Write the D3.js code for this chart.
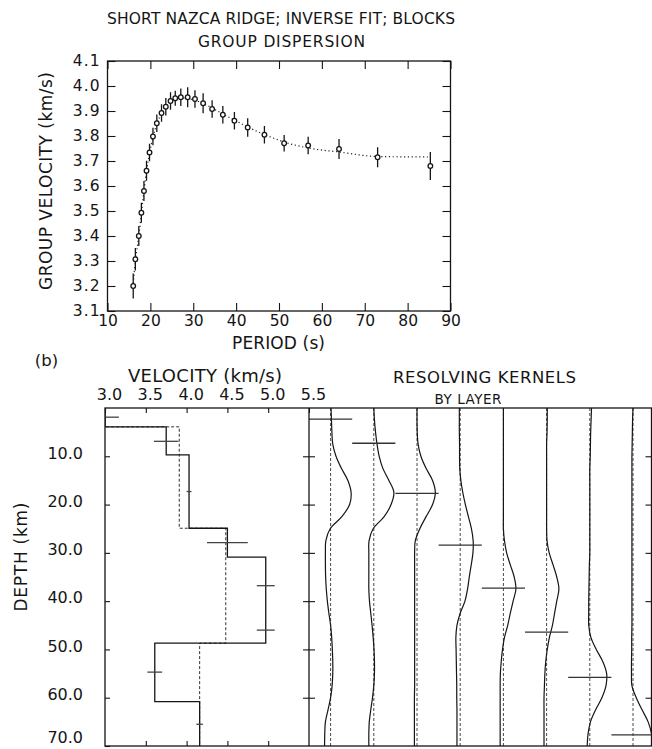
<!DOCTYPE html>
<html>
<head>
<meta charset="utf-8">
<script src="https://cdn.jsdelivr.net/npm/d3@7"></script>
<style>
  body { margin: 0; background: #fff; }
  svg text { font-family: "DejaVu Sans", sans-serif; fill: #151515; }
</style>
</head>
<body>
<div id="chart"></div>
<script>
//========================================================================================================================
// (a) group dispersion: observed periods (s), group velocity (km/s), error, and the inverse fit
const periods  = [16.0, 16.5, 17.3, 17.9, 18.5, 19.1, 19.8, 20.6, 21.5, 22.6, 23.6, 24.7, 25.8, 27.1,
                  28.7, 30.4, 32.3, 34.4, 36.9, 39.6, 42.7, 46.6, 51.2, 56.8, 64.0, 73.0, 85.3];
const groupVel = [3.200, 3.307, 3.400, 3.493, 3.580, 3.661, 3.734, 3.798, 3.851, 3.892, 3.917, 3.940, 3.951, 3.955,
                  3.955, 3.948, 3.931, 3.908, 3.885, 3.861, 3.834, 3.805, 3.771, 3.762, 3.748, 3.715, 3.680];
const groupErr = [0.050, 0.045, 0.040, 0.040, 0.040, 0.040, 0.035, 0.035, 0.035, 0.035, 0.035, 0.035, 0.030, 0.035,
                  0.040, 0.035, 0.040, 0.035, 0.035, 0.035, 0.037, 0.035, 0.033, 0.035, 0.040, 0.040, 0.056];
const fitVel   = [3.210, 3.300, 3.400, 3.490, 3.580, 3.660, 3.730, 3.795, 3.848, 3.890, 3.918, 3.937, 3.948, 3.952,
                  3.950, 3.943, 3.930, 3.912, 3.888, 3.864, 3.836, 3.806, 3.776, 3.752, 3.736, 3.718, 3.716];
const periodTicks = [10, 20, 30, 40, 50, 60, 70, 80, 90];
const groupTicks  = [3.1, 3.2, 3.3, 3.4, 3.5, 3.6, 3.7, 3.8, 3.9, 4.0, 4.1];

//========================================================================================================================
// (b) block model: layer tops (km), inverted and starting shear velocity (km/s), velocity error bars
const layerTop   = [0, 3.9, 9.7, 24.9, 30.9, 42.0, 48.7, 60.8];
const invVel     = [3.00, 3.75, 4.03, 4.50, 4.97, 4.97, 3.61, 4.16];
const startVel   = [3.00, 3.91, 3.91, 4.48, 4.48, 4.48, 4.16, 4.16];
const velErr     = [0.17, 0.15, 0.03, 0.25, 0.11, 0.11, 0.09, 0.04];
const crossDepth = [1.9, 6.9, 17.3, 27.9, 36.8, 46.0, 54.7, 65.5];
const modelVelTicks = [3.0, 3.5, 4.0, 4.5, 5.0, 5.5];
const depthTicks    = [10, 20, 30, 40, 50, 60, 70];

// resolving kernels, one column per layer, sampled every 2.5 km (amplitude: 1 = half column width)
const kernelDepth  = [0, 2.5, 5, 7.5, 10, 12.5, 15, 17.5, 20, 22.5, 25, 27.5, 30, 32.5, 35, 37.5, 40,
                      42.5, 45, 47.5, 50, 52.5, 55, 57.5, 60, 62.5, 65, 67.5, 70];
const kernelTarget = [2.3, 7.3, 17.7, 28.4, 37.3, 46.4, 55.8, 67.7];
const kernel1 = [0.02, 0.04, 0.06, 0.10, 0.25, 0.50, 0.80, 0.95, 0.88, 0.52, -0.02, -0.22, -0.24, -0.24, -0.23,
                 -0.20, -0.15, -0.08, 0.00, 0.05, 0.08, 0.10, 0.10, 0.07, 0.00, -0.12, -0.24, -0.27, -0.28];
const kernel2 = [0.00, 0.03, 0.08, 0.15, 0.25, 0.42, 0.70, 0.93, 0.80, 0.48, -0.03, -0.22, -0.23, -0.23, -0.23,
                 -0.23, -0.20, -0.14, -0.08, -0.03, 0.01, 0.03, 0.03, 0.00, -0.06, -0.14, -0.21, -0.23, -0.23];
const kernel3 = [0.00, 0.00, 0.01, 0.05, 0.18, 0.42, 0.72, 0.85, 0.72, 0.42, 0.13, -0.08, -0.11, -0.11, -0.11,
                 -0.11, -0.11, -0.11, -0.11, -0.11, -0.11, -0.11, -0.11, -0.11, -0.12, -0.12, -0.12, -0.12, -0.12];
const kernel4 = [-0.04, -0.04, -0.04, -0.03, -0.03, -0.02, 0.03, 0.12, 0.24, 0.38, 0.52, 0.60, 0.59, 0.51, 0.42,
                 0.34, 0.22, 0.00, -0.15, -0.20, -0.19, -0.18, -0.17, -0.16, -0.16, -0.15, -0.15, -0.15, -0.15];
const kernel5 = [0.00, 0.00, 0.00, 0.00, 0.00, 0.00, 0.00, 0.00, 0.00, 0.00, 0.00, 0.05, 0.15, 0.32, 0.50,
                 0.58, 0.45, 0.32, 0.20, 0.05, -0.04, -0.10, -0.14, -0.15, -0.15, -0.15, -0.15, -0.15, -0.15];
const kernel6 = [0.03, 0.03, 0.02, 0.00, 0.00, 0.00, 0.00, 0.00, 0.00, 0.00, 0.00, 0.02, 0.12, 0.30, 0.47,
                 0.57, 0.47, 0.37, 0.27, 0.13, 0.03, -0.04, -0.08, -0.10, -0.12, -0.12, -0.12, -0.12, -0.12];
const kernel7 = [0.08, 0.06, 0.04, 0.03, 0.02, 0.00, 0.00, 0.00, 0.00, 0.00, 0.00, 0.00, 0.00, -0.02, -0.03,
                 -0.04, -0.05, -0.05, -0.05, 0.05, 0.30, 0.60, 0.78, 0.75, 0.56, 0.27, 0.03, -0.08, -0.12];
const kernel8 = [0.00, -0.02, -0.03, -0.04, -0.05, -0.05, -0.05, -0.05, -0.05, -0.05, -0.05, -0.05, -0.05, -0.05, -0.05,
                 -0.05, -0.05, -0.05, -0.05, -0.06, -0.06, -0.07, -0.07, -0.05, 0.15, 0.42, 0.70, 0.86, 0.92];
const kernels = [kernel1, kernel2, kernel3, kernel4, kernel5, kernel6, kernel7, kernel8];

//========================================================================================================================
const W = 652, H = 749;
const ink = "#151515";

const svg = d3.select("#chart").append("svg").attr("width", W).attr("height", H);

// strip the domain line and restyle ticks / labels of a d3 axis
const styleAxis = (g, size) => {
  g.attr("font-family", "DejaVu Sans, sans-serif").attr("font-size", size);
  g.select(".domain").remove();
  g.selectAll(".tick line").attr("stroke", ink).attr("stroke-width", 1.1);
  g.selectAll(".tick text").attr("fill", ink);
};

const label = (txt, x, y, size, len, rotate) => {
  const t = svg.append("text")
    .attr("text-anchor", "middle")
    .attr("font-size", size)
    .text(txt);
  if (len) t.attr("textLength", len).attr("lengthAdjust", "spacing");
  if (rotate) t.attr("transform", `translate(${x},${y}) rotate(-90)`);
  else t.attr("x", x).attr("y", y);
  return t;
};

//================================ (a) GROUP DISPERSION ===================================================================
const pa = { left: 107.5, right: 450.5, top: 61, bottom: 311 };
const xP = d3.scaleLinear().domain([10, 90]).range([pa.left, pa.right]);
const yU = d3.scaleLinear().domain([3.1, 4.1]).range([pa.bottom, pa.top]);

const gA = svg.append("g");

gA.append("g").attr("transform", `translate(0,${pa.bottom})`)
  .call(d3.axisBottom(xP).tickValues(periodTicks).tickSize(-8).tickPadding(4).tickFormat(d3.format("d")))
  .call(g => styleAxis(g, 15.5));
gA.append("g").attr("transform", `translate(0,${pa.top})`)
  .call(d3.axisTop(xP).tickValues(periodTicks).tickSize(-8).tickFormat(""))
  .call(g => styleAxis(g, 15.5));
gA.append("g").attr("transform", `translate(${pa.left},0)`)
  .call(d3.axisLeft(yU).tickValues(groupTicks).tickSize(-8).tickPadding(7).tickFormat(d3.format(".1f")))
  .call(g => styleAxis(g, 15.5))
  .call(g => g.selectAll(".tick text").attr("letter-spacing", 1).attr("dy", "0.3em"));
gA.append("g").attr("transform", `translate(${pa.right},0)`)
  .call(d3.axisRight(yU).tickValues(groupTicks).tickSize(-8).tickFormat(""))
  .call(g => styleAxis(g, 15.5));

gA.append("rect")
  .attr("x", pa.left).attr("y", pa.top)
  .attr("width", pa.right - pa.left).attr("height", pa.bottom - pa.top)
  .attr("fill", "none").attr("stroke", ink).attr("stroke-width", 1.3);

// dotted inverse fit
const fitLine = d3.line().x((d, i) => xP(periods[i])).y(d => yU(d)).curve(d3.curveMonotoneX);
gA.append("path").datum(fitVel)
  .attr("d", fitLine)
  .attr("fill", "none").attr("stroke", "#222").attr("stroke-width", 1.2)
  .attr("stroke-dasharray", "1.2,2.6");

// error bars and data points
gA.selectAll(".err").data(periods).enter().append("line")
  .attr("class", "err")
  .attr("x1", d => xP(d)).attr("x2", d => xP(d))
  .attr("y1", (d, i) => yU(groupVel[i] - groupErr[i]))
  .attr("y2", (d, i) => yU(groupVel[i] + groupErr[i]))
  .attr("stroke", ink).attr("stroke-width", 1.3);

gA.selectAll(".obs").data(periods).enter().append("circle")
  .attr("class", "obs")
  .attr("cx", d => xP(d)).attr("cy", (d, i) => yU(groupVel[i]))
  .attr("r", 2.3)
  .attr("fill", "#fff").attr("stroke", ink).attr("stroke-width", 1.3);

label("SHORT NAZCA RIDGE; INVERSE FIT; BLOCKS", 281, 24, 15.5, 348);
label("GROUP DISPERSION", 281.5, 47, 15.5, 167);
label("GROUP VELOCITY (km/s)", 52, 181, 17, 218, true);
label("PERIOD (s)", 278.5, 349, 17, 93);

//================================ (b) MODEL AND RESOLVING KERNELS =========================================================
const pb = { left: 105, mid: 309, right: 651.5, top: 408, bottom: 746 };
const xV = d3.scaleLinear().domain([3.0, 5.5]).range([pb.left, pb.mid]);
const yD = d3.scaleLinear().domain([0, 70]).range([pb.top, pb.bottom]);
const xK = d3.scaleBand().domain(d3.range(kernels.length)).range([pb.mid, 654.6]);
const xA = d3.scaleLinear().domain([-1, 1]).range([-xK.bandwidth() / 2, xK.bandwidth() / 2]);

const defs = svg.append("defs");
defs.append("clipPath").attr("id", "clipV").append("rect")
  .attr("x", pb.left).attr("y", pb.top).attr("width", pb.mid - pb.left).attr("height", pb.bottom - pb.top);
defs.append("clipPath").attr("id", "clipK").append("rect")
  .attr("x", pb.mid).attr("y", pb.top).attr("width", pb.right - pb.mid).attr("height", pb.bottom - pb.top);

const gB = svg.append("g");

// stepped velocity-depth profile built from the layer table
const profile = (vel) => {
  const pts = [];
  vel.forEach((v, i) => {
    const bot = i + 1 < layerTop.length ? layerTop[i + 1] : yD.domain()[1];
    pts.push([v, layerTop[i]], [v, bot]);
  });
  return d3.line().x(d => xV(d[0])).y(d => yD(d[1]))(pts);
};

const gV = gB.append("g").attr("clip-path", "url(#clipV)");
gV.append("path").attr("d", profile(startVel))
  .attr("fill", "none").attr("stroke", "#333").attr("stroke-width", 1).attr("stroke-dasharray", "3,2");
gV.append("path").attr("d", profile(invVel))
  .attr("fill", "none").attr("stroke", ink).attr("stroke-width", 1.3);
gV.selectAll(".cross").data(invVel).enter().append("line")
  .attr("class", "cross")
  .attr("x1", (d, i) => xV(d - velErr[i])).attr("x2", (d, i) => xV(d + velErr[i]))
  .attr("y1", (d, i) => yD(crossDepth[i])).attr("y2", (d, i) => yD(crossDepth[i]))
  .attr("stroke", "#444").attr("stroke-width", 1.3);

// kernels
const gK = gB.append("g").attr("clip-path", "url(#clipK)");
const centre = k => xK(k) + xK.bandwidth() / 2;

gK.selectAll(".zero").data(kernels).enter().append("line")
  .attr("class", "zero")
  .attr("x1", (d, k) => centre(k)).attr("x2", (d, k) => centre(k))
  .attr("y1", pb.top).attr("y2", pb.bottom)
  .attr("stroke", "#333").attr("stroke-width", 0.9).attr("stroke-dasharray", "3,2");

gK.selectAll(".kernel").data(kernels).enter().append("path")
  .attr("class", "kernel")
  .attr("d", (d, k) => d3.line()
    .x(a => centre(k) + xA(a))
    .y((a, i) => yD(kernelDepth[i]))
    .curve(d3.curveCatmullRom)(d))
  .attr("fill", "none").attr("stroke", ink).attr("stroke-width", 1.2);

gK.selectAll(".target").data(kernelTarget).enter().append("line")
  .attr("class", "target")
  .attr("x1", (d, k) => centre(k) + xA(-1)).attr("x2", (d, k) => centre(k) + xA(1))
  .attr("y1", d => yD(d)).attr("y2", d => yD(d))
  .attr("stroke", "#333").attr("stroke-width", 1.3);

// axes of panel (b)
gB.append("g").attr("transform", `translate(0,${pb.top})`)
  .call(d3.axisTop(xV).tickValues(modelVelTicks).tickSize(-5).tickPadding(8).tickFormat(d3.format(".1f")))
  .call(g => styleAxis(g, 16))
  .call(g => g.selectAll(".tick text").attr("dx", 4));
gB.append("g").attr("transform", `translate(0,${pb.bottom})`)
  .call(d3.axisBottom(xV).tickValues(modelVelTicks.slice(1, -1)).tickSize(-5).tickFormat(""))
  .call(g => styleAxis(g, 16));
gB.append("g").attr("transform", `translate(${pb.left},0)`)
  .call(d3.axisLeft(yD).tickValues(depthTicks).tickSize(-5).tickPadding(22).tickFormat(d3.format(".1f")))
  .call(g => styleAxis(g, 16))
  .call(g => g.selectAll(".tick text").attr("dy", d => d === 70 ? "-0.2em" : "0.11em"));
gB.append("g").attr("transform", `translate(${pb.mid},0)`)
  .call(d3.axisLeft(yD).tickValues(depthTicks.slice(0, -1)).tickSize(6).tickFormat(""))
  .call(g => styleAxis(g, 16));
gB.append("g").attr("transform", `translate(${pb.mid},0)`)
  .call(d3.axisRight(yD).tickValues(depthTicks.slice(0, -1)).tickSize(6).tickFormat(""))
  .call(g => styleAxis(g, 16));
gB.append("g").attr("transform", `translate(${pb.right},0)`)
  .call(d3.axisRight(yD).tickValues(depthTicks.slice(0, -1)).tickSize(-6).tickFormat(""))
  .call(g => styleAxis(g, 16));

gB.append("rect")
  .attr("x", pb.left).attr("y", pb.top)
  .attr("width", pb.right - pb.left).attr("height", pb.bottom - pb.top)
  .attr("fill", "none").attr("stroke", ink).attr("stroke-width", 1.3);
gB.append("line")
  .attr("x1", pb.mid).attr("x2", pb.mid).attr("y1", pb.top).attr("y2", pb.bottom)
  .attr("stroke", ink).attr("stroke-width", 1.3);

label("(b)", 46.5, 366, 16.5);
label("VELOCITY (km/s)", 205, 382, 18, 154);
label("RESOLVING KERNELS", 484.5, 383, 16.5, 183);
label("BY LAYER", 468, 404, 13.5, 67);
label("DEPTH (km)", 26.5, 557, 17, 109, true);
</script>
</body>
</html>
